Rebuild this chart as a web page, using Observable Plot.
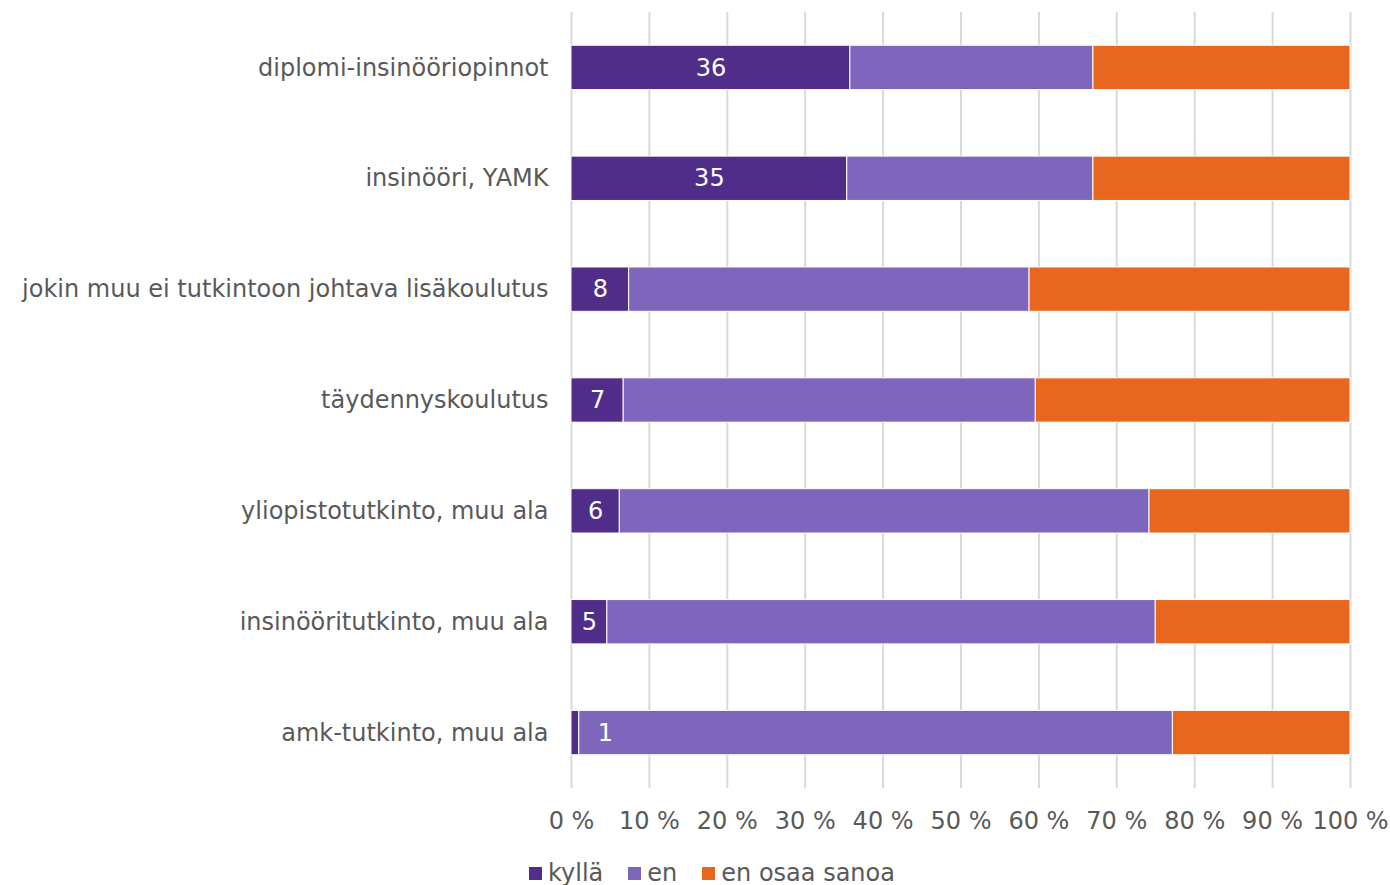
<!DOCTYPE html>
<html>
<head>
<meta charset="utf-8">
<script src="https://cdn.jsdelivr.net/npm/d3@7"></script>
<script src="https://cdn.jsdelivr.net/npm/@observablehq/plot@0.6"></script>
<style>
  html, body { margin: 0; padding: 0; background: #fff; }
  #chart { width: 1390px; }
  .legend { display: flex; justify-content: center; align-items: center; font-family: "DejaVu Sans", Verdana, sans-serif; font-size: 24px; line-height: 28px; color: #595959; margin-top: 14px; padding-left: 34px; }
  .legend .item { display: flex; align-items: center; margin: 0 12.5px; }
  .legend .sw { width: 13px; height: 13px; margin-right: 6px; }
</style>
</head>
<body>
<div id="chart"></div>
<script>
const categories = [
  "diplomi-insinööriopinnot",
  "insinööri, YAMK",
  "jokin muu ei tutkintoon johtava lisäkoulutus",
  "täydennyskoulutus",
  "yliopistotutkinto, muu ala",
  "insinööritutkinto, muu ala",
  "amk-tutkinto, muu ala"
];
const kylla = [35.8, 35.4, 7.4, 6.7, 6.2, 4.6, 1.0];
const en    = [31.2, 31.6, 51.4, 52.9, 68.0, 70.4, 76.2];
const eos   = [33.0, 33.0, 41.2, 40.4, 25.8, 25.0, 22.8];
const kyllaLabels = ["36", "35", "8", "7", "6", "5", "1"];
const series = ["kyllä", "en", "en osaa sanoa"];
const colors = ["#512D8A", "#7F66BD", "#E8671F"];
const xTicks = [0, 10, 20, 30, 40, 50, 60, 70, 80, 90, 100];

const rows = [];
categories.forEach((c, i) => {
  rows.push({cat: c, series: series[0], value: kylla[i]});
  rows.push({cat: c, series: series[1], value: en[i]});
  rows.push({cat: c, series: series[2], value: eos[i]});
});
const labelRows = categories.map((c, i) => ({cat: c, value: kylla[i], label: kyllaLabels[i]}));

const font = '"DejaVu Sans", Verdana, sans-serif';

const plot = Plot.plot({
  width: 1390,
  height: 845,
  marginLeft: 571,
  marginRight: 40,
  marginTop: 12,
  marginBottom: 57,
  style: { fontFamily: font, fontSize: "24px", color: "#595959", background: "#fff" },
  x: { domain: [0, 100], ticks: xTicks, tickFormat: d => d + " %", label: null },
  y: { domain: categories, paddingInner: 0.6, paddingOuter: 0.3, round: false, label: null },
  color: { domain: series, range: colors },
  marks: [
    Plot.gridX(xTicks, { stroke: "#d9d9d9", strokeOpacity: 1, strokeWidth: 2 }),
    Plot.axisX({ ticks: xTicks, tickSize: 0, tickPadding: 23, tickFormat: d => d + " %", fill: "#595959" }),
    Plot.axisY({ tickSize: 0, tickPadding: 23, fill: "#595959" }),
    Plot.barX(rows, Plot.stackX({ x: "value", y: "cat", fill: "series", order: series, stroke: "#fff", strokeWidth: 1 })),
    Plot.text(labelRows.filter(d => d.value >= 2), { x: d => d.value / 2, y: "cat", text: "label", fill: "#fff", fontSize: 24 }),
    Plot.text(labelRows.filter(d => d.value < 2), { x: d => d.value / 2, y: "cat", text: "label", fill: "#fff", fontSize: 24, dx: 30 })
  ]
});

document.getElementById("chart").appendChild(plot);

const legend = document.createElement("div");
legend.className = "legend";
series.forEach((s, i) => {
  const item = document.createElement("div");
  item.className = "item";
  const sw = document.createElement("div");
  sw.className = "sw";
  sw.style.background = colors[i];
  const t = document.createElement("span");
  t.textContent = s;
  item.appendChild(sw);
  item.appendChild(t);
  legend.appendChild(item);
});
document.getElementById("chart").appendChild(legend);
</script>
</body>
</html>
